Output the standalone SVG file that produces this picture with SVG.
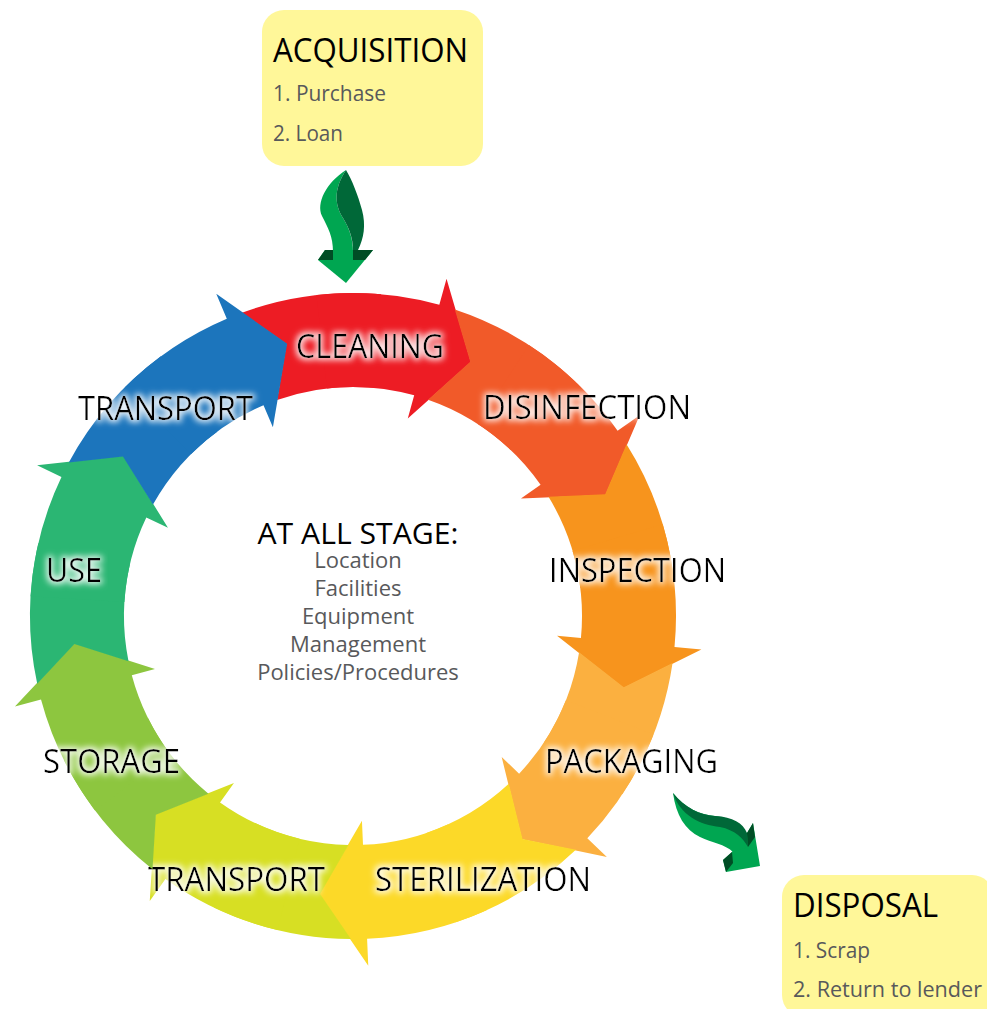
<svg xmlns="http://www.w3.org/2000/svg" width="987" height="1009" viewBox="0 0 987 1009">
  <defs>
    <style>
      text { font-family: "Open Sans", "Noto Sans", "Liberation Sans", sans-serif; }
      .lbl { font-size: 32px; fill: #000; filter: url(#glow); }
      .title { font-size: 32px; fill: #000; }
      .head { font-size: 29px; fill: #000; }
      .item { font-size: 22px; fill: #58595B; }
      .box { fill: #FFF799; }
      .lg { fill: #00A651; }
      .dg { fill: #006838; }
      .xg { fill: #004D25; }
    </style>
    <!-- soft white halo behind the stage labels -->
    <filter id="glow" x="-10%" y="-45%" width="120%" height="190%">
      <feMorphology in="SourceAlpha" operator="dilate" radius="2" result="d"/>
      <feGaussianBlur in="d" stdDeviation="3" result="b"/>
      <feFlood flood-color="#ffffff" flood-opacity="0.9"/>
      <feComposite in2="b" operator="in" result="g"/>
      <feMerge>
        <feMergeNode in="g"/>
        <feMergeNode in="SourceGraphic"/>
      </feMerge>
    </filter>
    <!-- ring segment pieces, drawn around the origin; 0deg = straight up -->
    <!-- end of a segment: last 22deg of the band plus the arrowhead -->
    <path id="head" d="M -121.00 -299.48 A 323 323 0 0 1 0 -323 L 0 -350 L 45.73 -276.24 L 0 -205 L 0 -229 A 229 229 0 0 0 -85.78 -212.33 Z"/>
    <!-- start of a segment: notched tail that fits behind the previous arrowhead -->
    <path id="tail" d="M 16.17 -322.59 A 323 323 0 0 1 151.64 -285.19 L 107.51 -202.20 A 229 229 0 0 0 14.50 -228.54 L 45.01 -276.36 Z"/>
  </defs>

  <rect width="987" height="1009" fill="#ffffff"/>

  <!-- cycle stages, clockwise from the top -->
  <g id="cleaning" fill="#ED1C24">
    <use href="#tail" transform="translate(353 616) rotate(-23)"/>
    <use href="#head" transform="translate(353 616) rotate(15.5)"/>
    <text class="lbl" x="296" y="358" textLength="148" lengthAdjust="spacingAndGlyphs">CLEANING</text>
  </g>
  <g id="disinfection" fill="#F15A29">
    <use href="#tail" transform="translate(353 616) rotate(15.5)"/>
    <use href="#head" transform="translate(353 616) rotate(55)"/>
    <text class="lbl" x="483" y="419" textLength="208" lengthAdjust="spacingAndGlyphs">DISINFECTION</text>
  </g>
  <g id="inspection" fill="#F7941D">
    <use href="#tail" transform="translate(353 616) rotate(55)"/>
    <use href="#head" transform="translate(353 616) rotate(95.5)"/>
    <text class="lbl" x="549" y="582" textLength="177" lengthAdjust="spacingAndGlyphs">INSPECTION</text>
  </g>
  <g id="packaging" fill="#FBB040">
    <use href="#tail" transform="translate(353 616) rotate(95.5)"/>
    <use href="#head" transform="translate(353 616) rotate(133.5)"/>
    <text class="lbl" x="545" y="773" textLength="173" lengthAdjust="spacingAndGlyphs">PACKAGING</text>
  </g>
  <g id="sterilization" fill="#FCD928">
    <use href="#tail" transform="translate(353 616) rotate(133.5)"/>
    <use href="#head" transform="translate(353 616) rotate(177.5)"/>
    <text class="lbl" x="375" y="891" textLength="216" lengthAdjust="spacingAndGlyphs">STERILIZATION</text>
  </g>
  <g id="transport-out" fill="#D7DF23">
    <use href="#tail" transform="translate(353 616) rotate(177.5)"/>
    <use href="#head" transform="translate(353 616) rotate(215.5)"/>
    <text class="lbl" x="148" y="891" textLength="177" lengthAdjust="spacingAndGlyphs">TRANSPORT</text>
  </g>
  <g id="storage" fill="#8DC63F">
    <use href="#tail" transform="translate(353 616) rotate(215.5)"/>
    <use href="#head" transform="translate(353 616) rotate(255)"/>
    <text class="lbl" x="43" y="773" textLength="137" lengthAdjust="spacingAndGlyphs">STORAGE</text>
  </g>
  <g id="use" fill="#2BB673">
    <use href="#tail" transform="translate(353 616) rotate(255)"/>
    <use href="#head" transform="translate(353 616) rotate(295.5)"/>
    <text class="lbl" x="46" y="582" textLength="56" lengthAdjust="spacingAndGlyphs">USE</text>
  </g>
  <g id="transport-back" fill="#1C75BC">
    <use href="#tail" transform="translate(353 616) rotate(295.5)"/>
    <use href="#head" transform="translate(353 616) rotate(337)"/>
    <text class="lbl" x="78" y="420" textLength="175" lengthAdjust="spacingAndGlyphs">TRANSPORT</text>
  </g>

  <!-- notes in the middle of the ring -->
  <g id="all-stages" text-anchor="middle">
    <text class="head" x="358" y="544" textLength="201" lengthAdjust="spacingAndGlyphs">AT ALL STAGE:</text>
    <text class="item" x="358" y="568">Location</text>
    <text class="item" x="358" y="596">Facilities</text>
    <text class="item" x="358" y="624">Equipment</text>
    <text class="item" x="358" y="652">Management</text>
    <text class="item" x="358" y="680">Policies/Procedures</text>
  </g>

  <!-- entry and exit boxes -->
  <g id="acquisition">
    <rect class="box" x="262" y="10" width="221" height="156" rx="22"/>
    <text class="title" x="273" y="62" textLength="195" lengthAdjust="spacingAndGlyphs">ACQUISITION</text>
    <text class="item" x="273" y="101" textLength="113" lengthAdjust="spacingAndGlyphs">1. Purchase</text>
    <text class="item" x="273" y="141" textLength="70" lengthAdjust="spacingAndGlyphs">2. Loan</text>
  </g>
  <g id="disposal">
    <rect class="box" x="782" y="875" width="212" height="142" rx="22"/>
    <text class="title" x="793" y="917" textLength="145" lengthAdjust="spacingAndGlyphs">DISPOSAL</text>
    <text class="item" x="793" y="958" textLength="77" lengthAdjust="spacingAndGlyphs">1. Scrap</text>
    <text class="item" x="793" y="997" textLength="189" lengthAdjust="spacingAndGlyphs">2. Return to lender</text>
  </g>

  <!-- curved 3D arrows into and out of the cycle -->
  <g id="connectors">
    <g id="arrow-in">
      <polygon class="lg" points="325,250 373,250 346,283 318,260"/>
      <path class="lg" d="M346,170 C326,183 316,203 322,216 C328,228 333,236 333,252 L353,252 C353,238 349,228 343,218 C335,205 333,190 346,170 Z"/>
      <path class="dg" d="M346,170 C333,190 335,205 343,218 C349,228 353,238 353,250 L358,250 C364,238 366,225 362,210 C358,195 352,180 346,170 Z"/>
      <polygon class="xg" points="325,250 333,250 333,260 318,260"/>
      <polygon class="xg" points="353,250 373,250 365,260 353,260"/>
    </g>
    <g id="arrow-out">
      <polygon class="lg" points="747,833 753,823 760,866 726,872 723,860 732,852"/>
      <path class="lg" d="M673,793 C676,815 685,830 700,837 C712,843 725,844 733,852 L748,847 C745,828 735,818 715,816 C700,815 685,808 673,793 Z"/>
      <path class="dg" d="M673,793 C685,808 700,815 715,816 C733,817 743,823 747,833 L748,847 C743,838 735,830 720,827 C700,825 680,815 673,793 Z"/>
      <polygon class="xg" points="747,833 753,823 755,837 748,847"/>
      <polygon class="xg" points="732,852 723,860 726,872 733,863"/>
    </g>
  </g>
</svg>
